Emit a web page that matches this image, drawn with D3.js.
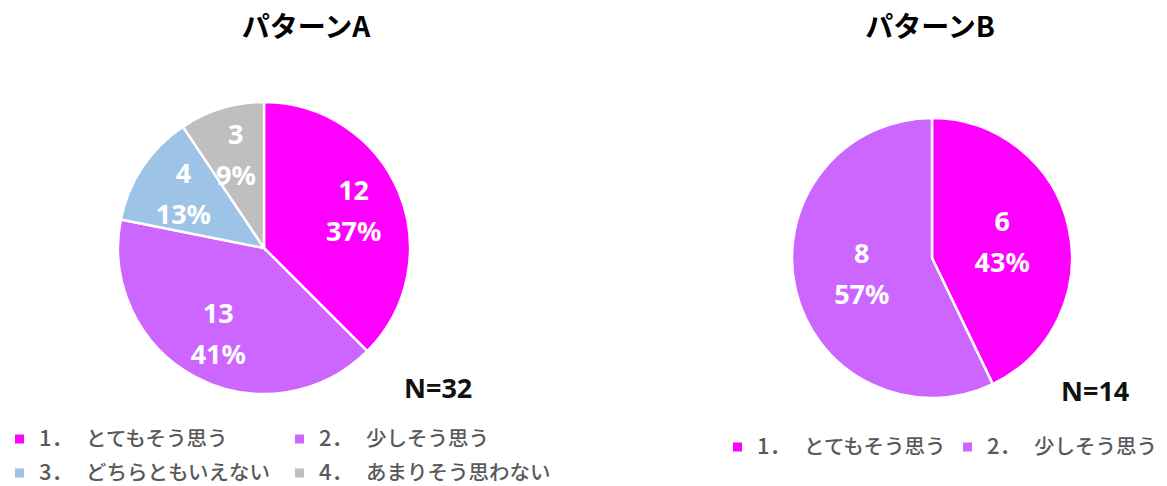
<!DOCTYPE html>
<html>
<head>
<meta charset="utf-8">
<script src="https://cdn.jsdelivr.net/npm/d3@7"></script>
<style>
  body { margin: 0; background: #fff; }
  text { font-family: "Noto Sans CJK JP", "Noto Sans", sans-serif; }
</style>
</head>
<body>
<div id="chart"></div>
<script>

// categories and colours
var categories = ['とてもそう思う', '少しそう思う', 'どちらともいえない', 'あまりそう思わない'];
var catNumbers = ['1．', '2．', '3．', '4．'];
var colors = ['#ff00ff', '#cc66ff', '#9dc3e6', '#bfbfbf'];

// pattern A
var countsA = [12, 13, 4, 3];
var pctA = ['37%', '41%', '13%', '9%'];
// pattern B
var countsB = [6, 8];
var pctB = ['43%', '57%'];

var titles = ['パターンA', 'パターンB'];
var nLabels = ['N=32', 'N=14'];

var width = 1167, height = 486;

var svg = d3.select("#chart")
    .append("svg")
      .attr("width", width)
      .attr("height", height);

function drawPie(counts, pcts, cx, cy, r, labelR) {
    var pie = d3.pie().sort(null).value(function(d) { return d; });
    var arc = d3.arc().innerRadius(0).outerRadius(r);
    var labelArc = d3.arc().innerRadius(labelR).outerRadius(labelR);

    var g = svg.append("g")
        .attr("transform", "translate(" + cx + "," + cy + ")");

    var slices = pie(counts);

    g.selectAll("path")
      .data(slices)
      .enter()
      .append("path")
        .attr("d", arc)
        .style("fill", function(d, i) { return colors[i]; })
        .style("stroke", "#fff")
        .style("stroke-width", 2.5);

    var lab = g.selectAll(".lab")
      .data(slices)
      .enter()
      .append("text")
        .attr("class", "lab")
        .attr("transform", function(d) { return "translate(" + labelArc.centroid(d) + ")"; })
        .attr("text-anchor", "middle")
        .style("fill", "#fff")
        .style("font-family", "'Noto Sans', sans-serif")
        .style("font-weight", "bold")
        .style("font-size", "27px");

    lab.append("tspan")
        .attr("x", 0)
        .attr("y", -11)
        .text(function(d) { return d.data; });
    lab.append("tspan")
        .attr("x", 0)
        .attr("y", 30)
        .text(function(d, i) { return pcts[i]; });
}

drawPie(countsA, pctA, 264, 248, 146, 97);
drawPie(countsB, pctB, 932, 258, 140, 72);

// titles
svg.selectAll(".title")
  .data(titles)
  .enter()
  .append("text")
    .attr("class", "title")
    .attr("x", function(d, i) { return i == 0 ? 306 : 930; })
    .attr("y", 37)
    .attr("text-anchor", "middle")
    .style("font-weight", "bold")
    .style("font-size", "28px")
    .style("fill", "#000")
    .text(function(d) { return d; });

// N labels
svg.selectAll(".nlab")
  .data(nLabels)
  .enter()
  .append("text")
    .attr("class", "nlab")
    .attr("x", function(d, i) { return i == 0 ? 404 : 1061; })
    .attr("y", function(d, i) { return i == 0 ? 398 : 401; })
    .style("font-family", "'Noto Sans', sans-serif")
    .style("font-weight", "bold")
    .style("font-size", "27px")
    .style("fill", "#111")
    .text(function(d) { return d; });

// legends
function legendItem(i, x, y) {
    svg.append("rect")
        .attr("x", x)
        .attr("y", y - 4.5)
        .attr("width", 9)
        .attr("height", 9)
        .style("fill", colors[i]);
    var t = svg.append("text")
        .attr("x", x + 24)
        .attr("y", y + 7)
        .style("font-size", "20.5px")
        .style("font-weight", "500")
        .style("fill", "#595959");
    t.append("tspan").style("font-size", "22px").text(catNumbers[i]);
    t.append("tspan").attr("x", x + 71).text(categories[i]);
}

// pattern A legend (2 x 2)
legendItem(0, 15, 439);
legendItem(1, 295, 439);
legendItem(2, 15, 473);
legendItem(3, 295, 473);

// pattern B legend
legendItem(0, 733, 447);
legendItem(1, 963, 447);

</script>
</body>
</html>
